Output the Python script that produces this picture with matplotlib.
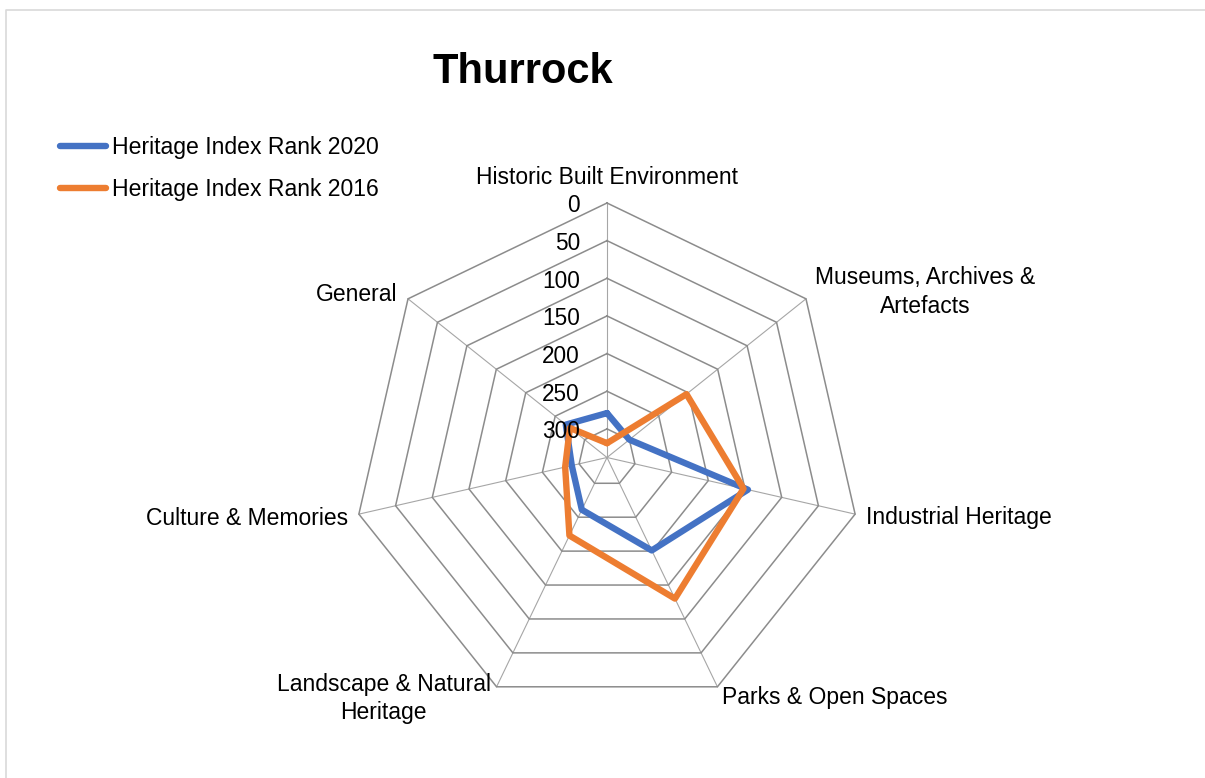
import numpy as np
import matplotlib
matplotlib.use("Agg")
import matplotlib.pyplot as plt
from matplotlib.lines import Line2D

plt.rcParams['font.family'] = ['Liberation Sans', 'DejaVu Sans']

categories = ["Historic Built Environment", "Museums, Archives &\nArtefacts",
              "Industrial Heritage", "Parks & Open Spaces",
              "Landscape & Natural\nHeritage", "Culture & Memories", "General"]
rank_2020 = [279, 300, 146, 201, 261, 290, 268]
rank_2016 = [319, 203, 152, 130, 223, 281, 275]
ring_ticks = [0, 50, 100, 150, 200, 250, 300]
r_max = 338
series_names = ["Heritage Index Rank 2020", "Heritage Index Rank 2016"]
colors = ["#4472C4", "#ED7D31"]

W, H = 1205, 778
fig = plt.figure(figsize=(W / 100, H / 100), dpi=100)

cx, cy, R = 607, 457.5, 254.5
ax = fig.add_axes([(cx - R) / W, (H - cy - R) / H, 2 * R / W, 2 * R / H], projection='polar')
ax.set_theta_zero_location('N')
ax.set_theta_direction(-1)
ax.set_ylim(r_max, 0)
ax.grid(False)
ax.set_xticks([])
ax.set_yticks([])
ax.spines['polar'].set_visible(False)
ax.set_facecolor('none')

n = len(categories)
theta = np.linspace(0, 2 * np.pi, n, endpoint=False)
theta_c = np.append(theta, theta[0])

# spokes
for t in theta:
    ax.plot([t, t], [r_max, 0], color="#a6a6a6", lw=0.8, clip_on=False, zorder=1)
# heptagon rings
for v in ring_ticks:
    ax.plot(theta_c, [v] * (n + 1), color="#8c8c8c", lw=1.1, clip_on=False, zorder=1,
            solid_joinstyle='miter')

# series
for vals, col, name in zip([rank_2020, rank_2016], colors, series_names):
    vv = list(vals) + [vals[0]]
    ax.plot(theta_c, vv, color=col, lw=4.6, label=name, clip_on=False, zorder=3,
            solid_joinstyle='round', solid_capstyle='round')

# ring tick labels
for v in ring_ticks:
    ax.annotate(str(v), xy=(0, v), xytext=(-27, -3), textcoords='offset pixels',
                ha='right', va='center', fontsize=16.3, color='#000000', zorder=4)

# category labels
label_specs = [
    dict(off=(0, 25), ha='center', va='center'),
    dict(off=(9, 7), ha='left', va='center'),
    dict(off=(11, -3), ha='left', va='center'),
    dict(off=(5, -11), ha='left', va='center'),
    dict(off=(-6, -12), ha='right', va='center'),
    dict(off=(-11, -4), ha='right', va='center'),
    dict(off=(-11, 4), ha='right', va='center'),
]
for t, lab, sp in zip(theta, categories, label_specs):
    ax.annotate(lab, xy=(t, 0), xytext=sp['off'], textcoords='offset pixels',
                ha=sp['ha'], va=sp['va'], multialignment='center', fontsize=16.5,
                linespacing=1.3, color='#000000', annotation_clip=False)

# title
fig.text(522.5 / W, 1 - 83 / H, "Thurrock", ha='center', va='baseline',
         fontsize=30, fontweight='bold')

# legend
handles = [Line2D([0], [0], color=c, lw=4.6, solid_capstyle='round') for c in colors]
fig.legend(handles, series_names, loc='upper left', bbox_to_anchor=(60 / W, 1 - 136 / H),
           frameon=False, fontsize=16.6, handlelength=2.0, handletextpad=0.25,
           labelspacing=0.82, borderpad=0, borderaxespad=0)

# chart border (top and left)
fig.add_artist(Line2D([6 / W, 6 / W, 1], [0, 1 - 10 / H, 1 - 10 / H],
                      transform=fig.transFigure, color="#d9d9d9", lw=1.2))

fig.savefig("out.png", dpi=100)
